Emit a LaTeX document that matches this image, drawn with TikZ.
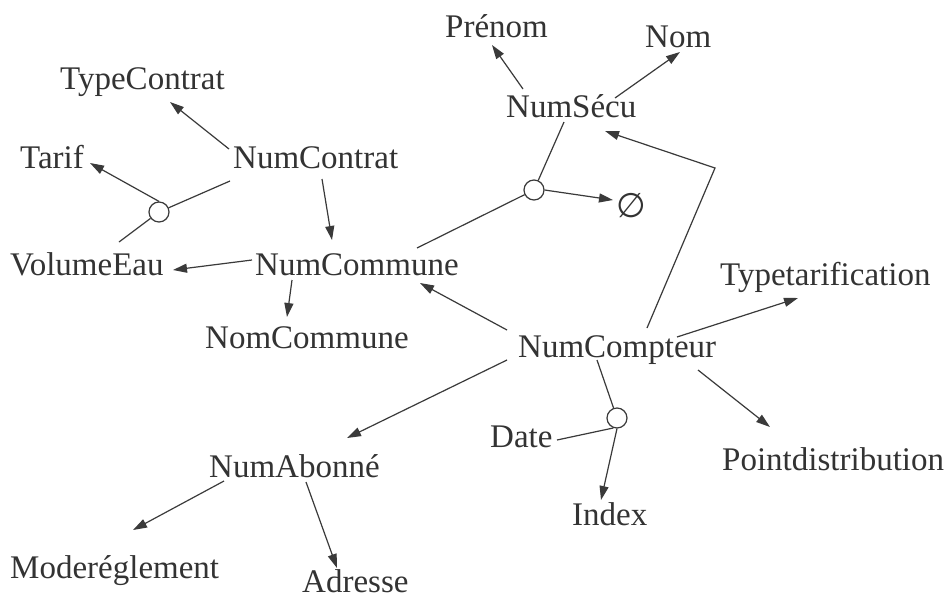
\documentclass[tikz,border=0pt]{standalone}
\usepackage{fontspec}
\setmainfont{Liberation Serif}
\newfontfamily\symfont{DejaVu Sans}
\usetikzlibrary{arrows.meta,calc}
\definecolor{ink}{HTML}{333333}
\definecolor{wire}{HTML}{3A3A3A}
\tikzset{
  lbl/.style={anchor=base west,inner sep=0pt,text=ink,font=\fontsize{33}{40}\selectfont},
  junc/.style={circle,draw=wire,line width=1.2pt,fill=white,minimum size=20pt,inner sep=0pt},
  link/.style={draw=wire,line width=1.2pt},
  arr/.style={link,-{Triangle[length=14pt,width=9pt]}}
}
\begin{document}
\begin{tikzpicture}[x=1pt,y=-1pt]
\useasboundingbox[fill=white] (0,0) rectangle (950,600);
% labels
\node[lbl] (prenom) at (445,37) {Prénom};
\node[lbl] (nom) at (645,47) {Nom};
\node[lbl] (typec) at (60,89) {TypeContrat};
\node[lbl] (numsecu) at (506,117) {NumSécu};
\node[lbl] (tarif) at (20,168) {Tarif};
\node[lbl] (numcontrat) at (233,168) {NumContrat};
\node[lbl] (volume) at (10,275) {VolumeEau};
\node[lbl] (numcommune) at (255,275) {NumCommune};
\node[inner sep=0pt,text=ink,font=\symfont\fontsize{34}{40}\selectfont] (empty) at (631,206) {∅};
\node[lbl] (typetarif) at (720,285) {Typetarification};
\node[lbl] (nomcommune) at (205,348) {NomCommune};
\node[lbl] (numcompteur) at (518,357) {NumCompteur};
\node[lbl] (date) at (490,447) {Date};
\node[lbl] (pointdist) at (722,470) {Pointdistribution};
\node[lbl] (numabonne) at (209,477) {NumAbonné};
\node[lbl] (index) at (572,525) {Index};
\node[lbl] (modereg) at (10,578) {Moderéglement};
\node[lbl] (adresse) at (302,592) {Adresse};
% junction circles
\node[junc] (j1) at (159,212) {};
\node[junc] (j2) at (534,190) {};
\node[junc] (j3) at (617,418) {};
% NumContrat group
\draw[arr] ($(numcontrat.base west)+(-4,-19)$) -- ($(typec.base west)+(110,13)$);
\draw[link] ($(numcontrat.base west)+(-3,13)$) -- (j1);
\draw[link] ($(volume.base west)+(109,-33)$) -- (j1);
\draw[arr] (j1.north) -- ($(tarif.base west)+(70,-5)$);
\draw[arr] ($(numcontrat.base west)+(89,11)$) -- ($(numcommune.base west)+(77,-35)$);
% NumCommune group
\draw[arr] ($(numcommune.base west)+(-3,-15)$) -- ($(volume.base west)+(163,-5)$);
\draw[arr] ($(numcommune.base west)+(37,5)$) -- ($(nomcommune.base west)+(82,-31)$);
\draw[link] ($(numcommune.base west)+(162,-27)$) -- (j2);
\draw[link] ($(numsecu.base west)+(58,5)$) -- (j2);
\draw[arr] (j2.east) -- ($(empty.center)+(-18,-6)$);
% NumSecu group
\draw[arr] ($(numsecu.base west)+(17,-28)$) -- ($(prenom.base west)+(47,8)$);
\draw[arr] ($(numsecu.base west)+(109,-19)$) -- ($(nom.base west)+(35,5)$);
% NumCompteur group
\draw[arr] ($(numcompteur.base west)+(129,-29)$) -- ($(numcompteur.base west)+(197,-189)$) -- ($(numsecu.base west)+(99,14)$);
\draw[arr] ($(numcompteur.base west)+(-11,-27)$) -- ($(numcommune.base west)+(165,8)$);
\draw[arr] ($(numcompteur.base west)+(-11,3)$) -- ($(numabonne.base west)+(138,-39)$);
\draw[arr] ($(numcompteur.base west)+(159,-20)$) -- ($(typetarif.base west)+(78,13)$);
\draw[arr] ($(numcompteur.base west)+(180,13)$) -- ($(pointdist.base west)+(48,-43)$);
\draw[link] ($(numcompteur.base west)+(79,3)$) -- (j3);
\draw[link] ($(date.base west)+(67,-7)$) -- (j3.-110);
\draw[arr] (j3.south) -- ($(index.base west)+(29,-25)$);
% NumAbonne group
\draw[arr] ($(numabonne.base west)+(15,4)$) -- ($(modereg.base west)+(123,-48)$);
\draw[arr] ($(numabonne.base west)+(97,5)$) -- ($(adresse.base west)+(35,-24)$);
\end{tikzpicture}
\end{document}
